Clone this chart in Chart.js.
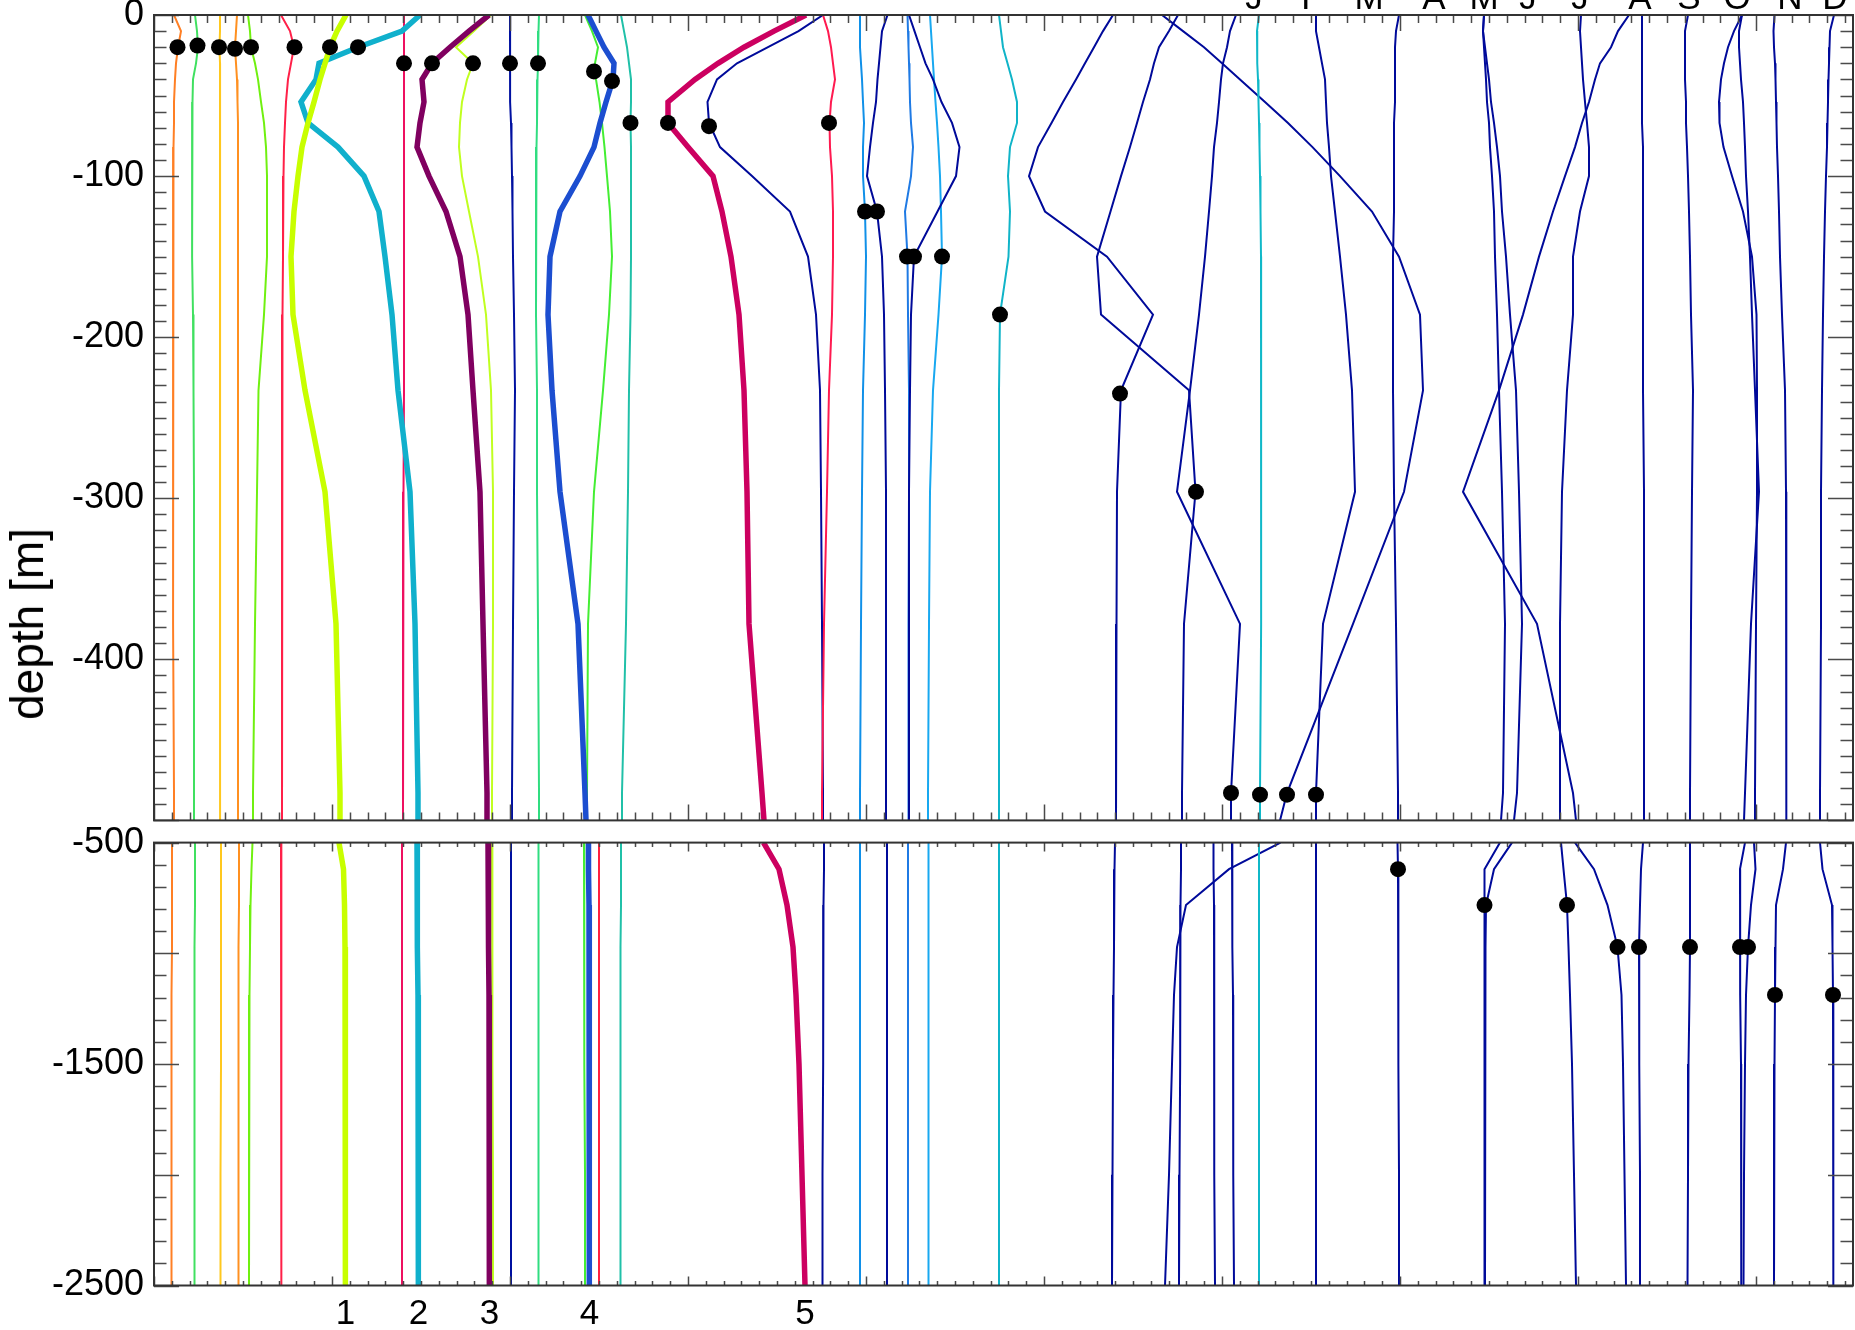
<!DOCTYPE html>
<html>
<head>
<meta charset="utf-8">
<script src="https://cdn.jsdelivr.net/npm/chart.js@4.4.1/dist/chart.umd.min.js"></script>
<style>
  html, body { margin: 0; padding: 0; background: #fff; }
  #wrap { position: relative; width: 1855px; height: 1330px; overflow: hidden; }
  #topChart { position: absolute; left: 0; top: 0; }
  #deepChart { position: absolute; left: 0; top: 815px; }
  #ylab { position: absolute; left: 27px; top: 624px; transform: translate(-50%, -50%) rotate(-90deg);
          font: 46px "Liberation Sans", Arial, sans-serif; white-space: nowrap; color: #000; }
</style>
</head>
<body>
<div id="wrap">
  <canvas id="topChart" width="1855" height="832"></canvas>
  <canvas id="deepChart" width="1855" height="515"></canvas>
  <div id="ylab">depth [m]</div>
</div>
<script>
// depth levels (m) of the profile vertices
const depthTop = [0, -10, -20, -30, -40, -54, -67, -82, -100, -122, -150, -186, -233, -296, -378, -483, -500];
const depthDeep = [-500, -620, -782, -972, -1188, -1500, -2000, -2500];

// profile offsets, upper 500 m
const oranA = [20, 27, 24, 22, 21, 20, 20, 19.5, 19, 19, 19, 19, 19, 19, 19.5, 20, 20];
const greenA = [41, 43, 44, 42, 39, 38.5, 38, 38, 38, 38, 38.5, 39, 39.5, 40, 40, 40, 40];
const amberA = [66, 66, 65.5, 66, 66, 66, 66, 66, 66, 66, 66, 66, 66, 66, 66, 66.5, 66.5];
const oranB = [83, 82, 81, 82, 83, 83.5, 84, 84, 84, 84, 84, 84, 84, 84, 84, 84, 84];
const limeA = [94, 96, 97, 101, 104, 107, 110, 112, 113, 113, 113, 110, 104.5, 103, 101, 99, 99];
const redA = [127, 136, 140, 137, 134, 132, 131, 130, 129.5, 129, 129, 128.5, 128, 128, 128, 128, 128];
const thick1 = [192, 183, 176, 171, 166, 160, 154, 148, 144, 140, 137, 139, 151, 171, 182, 186, 186];
const thick2 = [266, 248, 204, 165, 162, 147, 154, 184, 210, 225, 231, 238, 244, 256, 261, 264, 264];
const crimsonA = [250, 250, 250, 250, 250, 250, 250, 250, 250, 250, 250, 250, 250, 249.5, 249, 249, 249];
const thick3 = [335, 315, 296, 278, 268, 270, 266, 263, 275, 292, 306, 314, 319, 326, 329, 333, 333];
const limeB = [337, 320, 302, 319, 313, 308, 306, 305, 308, 315, 324, 332, 337, 339, 339, 338, 338];
const navyA = [356, 356, 356, 356, 356, 356.5, 357, 357.5, 358, 358.5, 359, 360, 361, 360, 359, 358, 358];
const greenB = [385, 384.5, 384, 384, 383.5, 383, 383, 382.5, 382, 382, 382, 382, 383, 383, 384, 385, 385];
const greenC = [431, 438, 444, 441, 442, 445.5, 448, 450.5, 453, 456, 458, 455, 449, 440, 434, 433, 433];
const thick4 = [434, 442, 450, 460, 459, 452, 446, 440, 426, 406, 396, 394, 398, 406, 424, 431, 432];
const tealA = [467, 470, 473, 475, 477, 477, 476.5, 477, 477, 477, 477, 476.5, 475, 474, 472, 468, 468];
const thick5 = [652, 620, 590, 564, 541, 514, 514, 534, 559, 568, 577, 585, 590, 593, 595, 608, 610];
const navyB = [669, 644.5, 614, 583, 563, 553.5, 555, 566, 598, 636, 654, 662, 666, 667, 668, 669, 669];
const redB = [669, 674, 677, 679, 681, 677, 675.5, 676, 678, 679, 679, 678, 675, 673, 670, 668, 668];
const skyA = [706, 706, 706, 707, 708, 709, 710, 709, 709, 711, 712, 711, 709, 708, 707, 706, 706];
const navyC = [733.5, 728, 726.5, 725, 723.5, 722, 719, 716, 713, 723, 728, 730, 731, 732, 732, 732, 732];
const blueA = [753.5, 754, 754.5, 755, 755.5, 756, 757, 759, 757, 751, 753.5, 754, 755, 755, 754.5, 754.5, 754.5];
const navyD = [755, 760.5, 766, 771.5, 779, 787.5, 798, 805.5, 802, 783.5, 760, 757, 756, 755, 755, 755, 755];
const skyB = [776, 777, 778, 779, 780, 781.5, 783, 784.5, 786, 787, 788, 784.5, 779, 776, 775, 774, 774];
const tealB = [845, 847, 849, 853.5, 858, 863, 863, 856, 854, 856, 854.5, 846, 845, 845, 845, 845, 845];
const navyE = [959, 949, 940, 931, 922, 909, 897.5, 884, 875, 891, 953, 999, 967, 963, 962.5, 962, 962];
const navyF = [1024, 1015, 1005, 1000, 996, 989, 983, 976, 967, 956.5, 943, 947, 1035, 1041.5, 1030, 1028, 1028];
const navyG = [1082, 1076, 1073, 1069, 1067, 1065, 1063, 1060, 1058, 1055, 1051, 1045, 1036, 1023, 1086, 1077, 1077];
const tealC = [1105, 1103, 1103, 1103.5, 1104, 1104.5, 1105, 1105.5, 1106, 1106.5, 1107, 1107, 1107.5, 1107, 1107, 1106, 1106];
const navyH = [1008, 1029, 1050, 1068, 1086, 1111, 1134, 1158.5, 1186, 1218, 1245, 1266, 1269, 1250, 1199, 1133, 1126];
const navyI = [1162, 1162, 1165, 1168, 1171, 1172, 1173, 1175, 1177, 1181, 1186, 1192, 1198, 1201, 1169, 1162, 1162];
const navyJ = [1245, 1242, 1241, 1241, 1241, 1241, 1240, 1240, 1240, 1240, 1239, 1239, 1239, 1240, 1242, 1244, 1244];
const navyK = [1330, 1329, 1330, 1331, 1332, 1333, 1335, 1336, 1338, 1340, 1341, 1343, 1345, 1348, 1351, 1349, 1347];
const navyL = [1330, 1329, 1331, 1333, 1335, 1337, 1340, 1343, 1346, 1348, 1352, 1356, 1362, 1365, 1368, 1363, 1360];
const navyM = [1427, 1426, 1427, 1428, 1429, 1431, 1433, 1435, 1435, 1426, 1419, 1419, 1413, 1408, 1406, 1406, 1406];
const navyN = [1475, 1464, 1457, 1446, 1441, 1435, 1428, 1421, 1411, 1399, 1385, 1369, 1345, 1309, 1383, 1419, 1422];
const navyO = [1488, 1488, 1488, 1488, 1488, 1488, 1488, 1489, 1489, 1489, 1489, 1489, 1489, 1490, 1490, 1490, 1490];
const navyP = [1534, 1531, 1531, 1531, 1531, 1532, 1532, 1533, 1534, 1535, 1536, 1537, 1539, 1538, 1537, 1536, 1536];
const navyQ = [1588, 1585, 1585, 1586, 1587, 1589, 1590, 1591, 1592, 1594, 1596, 1598, 1601, 1605, 1597, 1591, 1590];
const navyR = [1588, 1580, 1574, 1570, 1567, 1565, 1565.5, 1569.5, 1578, 1589, 1598, 1602.5, 1603, 1603, 1602, 1601, 1601];
const navyS = [1620.5, 1619.5, 1620, 1621, 1621.5, 1622, 1622.5, 1623, 1624, 1625, 1626, 1628, 1631, 1632, 1632, 1632.5, 1632.5];
const navyT = [1680, 1676, 1675.5, 1675, 1674.5, 1674, 1673.5, 1673, 1672, 1671, 1670, 1669, 1668, 1667, 1667, 1666, 1666];

// profile offsets, 500 - 2500 m
const oranADeep = [18, 18, 18, 18, 17.5, 17.5, 17.5, 17.5];
const greenADeep = [41, 41, 41, 40.5, 40.5, 40.5, 40.5, 40.5];
const amberADeep = [67, 67, 67, 67, 67, 67, 66.5, 66.5];
const oranBDeep = [85, 85, 85, 84.5, 84.5, 84.5, 84.5, 84.5];
const limeADeep = [98.5, 97.5, 96.5, 96, 95.5, 95, 95, 95];
const redADeep = [127, 127, 127, 127.5, 127.5, 127.5, 127.5, 127.5];
const thick1Deep = [185, 189.5, 190.5, 191, 191, 191.5, 191.5, 191.5];
const crimsonADeep = [248, 248, 248, 248, 248, 248, 248, 248];
const thick2Deep = [263, 263, 263.5, 263.5, 264, 264, 264.5, 264.5];
const thick3Deep = [334, 334.5, 334.5, 334.5, 335, 335, 335.5, 335.5];
const limeBDeep = [338, 338, 338.5, 338.5, 338.5, 338.5, 339, 339];
const navyADeep = [357, 357, 357, 357, 357, 357, 357, 357];
const greenBDeep = [384.5, 384.5, 384.5, 384.5, 384.5, 384.5, 384.5, 384.5];
const greenCDeep = [430, 430, 430, 430.5, 430.5, 430.5, 431, 431];
const thick4Deep = [434.5, 434.5, 435, 435, 435, 435.5, 435.5, 435.5];
const redCDeep = [445, 445, 445, 445, 445, 445, 445, 445];
const tealADeep = [467, 467, 467, 466.5, 466.5, 466.5, 466.5, 466.5];
const thick5Deep = [609.5, 625, 633, 639, 642, 645, 648, 651];
const navyBDeep = [670, 670, 669.5, 669.5, 669, 669, 668.5, 668.5];
const skyADeep = [706, 706, 706, 706, 706, 706, 706, 706];
const navyCDeep = [733, 733, 733, 733, 733, 733, 733, 733];
const blueADeep = [754, 754, 754, 754, 754, 754, 754, 754];
const skyBDeep = [774.5, 774.5, 774.5, 774.5, 774.5, 774.5, 774.5, 774.5];
const tealBDeep = [845, 845, 845, 845, 845, 845, 845, 845];
const navyEDeep = [961, 960.5, 960, 960, 959.5, 959, 958.5, 958];
const navyHDeep = [1126.5, 1075, 1032, 1023, 1020, 1018, 1015, 1011];
const navyFDeep = [1027, 1027, 1026.5, 1026.5, 1026, 1026, 1025.5, 1025];
const navyUDeep = [1059.5, 1059.5, 1060, 1060, 1060, 1060.5, 1060.5, 1061];
const navyGDeep = [1078, 1078, 1078.5, 1078.5, 1079, 1079, 1079.5, 1080];
const tealCDeep = [1105, 1105, 1105, 1105, 1105, 1105, 1105, 1105];
const navyIDeep = [1162, 1162, 1162, 1162, 1162, 1162, 1162, 1162];
const navyJDeep = [1243.5, 1244, 1244, 1244.5, 1244.5, 1244.5, 1245, 1245];
const navyKDeep = [1346, 1330.5, 1330.5, 1330.5, 1330.5, 1330.5, 1330.5, 1330.5];
const navyLDeep = [1358, 1340, 1332, 1331.5, 1331, 1331, 1331, 1331];
const navyMDeep = [1407, 1409.5, 1413, 1414.5, 1416, 1418, 1420, 1422];
const navyNDeep = [1421, 1440, 1453.5, 1463.5, 1467.5, 1469, 1470.5, 1472];
const navyODeep = [1489, 1487, 1486, 1485, 1485, 1485.5, 1486, 1486];
const navyPDeep = [1536, 1536, 1536, 1536, 1535.5, 1534.5, 1534, 1533.5];
const navyQDeep = [1591, 1586, 1586, 1586, 1586.5, 1587, 1587, 1587.5];
const navyRDeep = [1600, 1601.5, 1597, 1594, 1592, 1591, 1590, 1589.5];
const navySDeep = [1632, 1629, 1622, 1621.5, 1621, 1620.5, 1620, 1620];
const navyTDeep = [1666, 1668.5, 1678, 1678.5, 1679, 1679, 1679.5, 1679.5];

// black markers
const dotTopX = [23.5, 43.5, 65, 81, 97, 140.5, 176, 204, 250, 278, 319, 356, 384, 440, 458, 476.5, 514, 555, 675,
                 711, 723, 753, 760, 788, 846, 966, 1042, 1077, 1106, 1133, 1162];
const dotTopDepth = [-20, -19, -20, -21, -20, -20, -20, -20, -30, -30, -30, -30, -30, -35, -41, -67, -67, -69, -67,
                     -122, -122, -150, -150, -150, -186, -235, -296, -483, -484, -484, -484];
const dotDeepX = [1244, 1330.5, 1413, 1463.5, 1485, 1536, 1586, 1594, 1621, 1679];
const dotDeepDepth = [-620, -782, -782, -972, -972, -972, -972, -972, -1188, -1188];

// axis labels
const monthNames = ['J', 'F', 'M', 'A', 'M', 'J', 'J', 'A', 'S', 'O', 'N', 'D'];
const monthX = [1100, 1158, 1215, 1280, 1330, 1374, 1426, 1486, 1535, 1583, 1636, 1681];
const profileNames = ['1', '2', '3', '4', '5'];

const X_MAX = 1699;
const X_MINOR = 17.8;
const NAVY = '#000a9a';

const profiles = [
  { top: oranA, deep: oranADeep, color: '#ff7f24' },
  { top: greenA, deep: greenADeep, color: '#40e060' },
  { top: amberA, deep: amberADeep, color: '#ffc81e' },
  { top: oranB, deep: oranBDeep, color: '#ff9020' },
  { top: limeA, deep: limeADeep, color: '#70f010' },
  { top: redA, deep: redADeep, color: '#ff2048' },
  { top: thick1, deep: thick1Deep, color: '#c8ff00', thick: true },
  { top: thick2, deep: thick2Deep, color: '#10b0cc', thick: true },
  { top: crimsonA, deep: crimsonADeep, color: '#ee1060' },
  { top: thick3, deep: thick3Deep, color: '#800060', thick: true },
  { top: limeB, deep: limeBDeep, color: '#c0ff20' },
  { top: navyA, deep: navyADeep, color: '#0010a0' },
  { top: greenB, deep: greenBDeep, color: '#30dd80' },
  { top: greenC, deep: greenCDeep, color: '#44ee33' },
  { top: thick4, deep: thick4Deep, color: '#1c4ed0', thick: true },
  { top: null, deep: redCDeep, color: '#ff2040' },
  { top: tealA, deep: tealADeep, color: '#20c0a8' },
  { top: thick5, deep: thick5Deep, color: '#cc0060', thick: true },
  { top: redB, deep: null, color: '#ff1a50' },
  { top: navyB, deep: navyBDeep, color: NAVY },
  { top: skyA, deep: skyADeep, color: '#1090e8' },
  { top: navyC, deep: navyCDeep, color: NAVY },
  { top: navyD, deep: null, color: NAVY },
  { top: blueA, deep: blueADeep, color: '#1f7ae4' },
  { top: skyB, deep: skyBDeep, color: '#18a8f0' },
  { top: tealB, deep: tealBDeep, color: '#10b4c8' },
  { top: navyE, deep: navyEDeep, color: NAVY },
  { top: navyF, deep: navyFDeep, color: NAVY },
  { top: null, deep: navyUDeep, color: NAVY },
  { top: navyG, deep: navyGDeep, color: NAVY },
  { top: tealC, deep: tealCDeep, color: '#10b8c8' },
  { top: navyH, deep: navyHDeep, color: NAVY },
  { top: navyI, deep: navyIDeep, color: NAVY },
  { top: navyJ, deep: navyJDeep, color: NAVY },
  { top: navyK, deep: navyKDeep, color: NAVY },
  { top: navyL, deep: navyLDeep, color: NAVY },
  { top: navyM, deep: navyMDeep, color: NAVY },
  { top: navyN, deep: navyNDeep, color: NAVY },
  { top: navyO, deep: navyODeep, color: NAVY },
  { top: navyP, deep: navyPDeep, color: NAVY },
  { top: navyQ, deep: navyQDeep, color: NAVY },
  { top: navyR, deep: navyRDeep, color: NAVY },
  { top: navyS, deep: navySDeep, color: NAVY },
  { top: navyT, deep: navyTDeep, color: NAVY }
];

Chart.defaults.font.family = '"Liberation Sans", Arial, sans-serif';
Chart.defaults.color = '#000';

function lineSets(key, depths) {
  const sets = [];
  profiles.forEach(p => {
    const xs = p[key];
    if (!xs) return;
    sets.push({
      data: xs.map((x, i) => ({ x: x, y: depths[i] })),
      showLine: true,
      borderColor: p.color,
      borderWidth: p.thick ? 5.5 : 2,
      pointRadius: 0,
      tension: 0,
      clip: 0,
      order: p.thick ? 1 : 2
    });
  });
  return sets;
}

function dotSet(xs, depths) {
  return {
    data: xs.map((x, i) => ({ x: x, y: depths[i] })),
    showLine: false,
    pointRadius: 8,
    pointBackgroundColor: '#000',
    pointBorderWidth: 0,
    clip: false,
    order: 0
  };
}

// box round the plot and inward ticks on all four sides
const frame = {
  id: 'frame',
  afterDatasetsDraw(chart, args, o) {
    const { ctx, chartArea: a } = chart;
    const xs = chart.scales.x, ys = chart.scales.y;
    ctx.save();
    ctx.strokeStyle = '#4a4a4a';
    ctx.lineWidth = 1.5;
    ctx.beginPath();
    for (let k = 0; k * X_MINOR <= X_MAX + 0.01; k++) {
      const px = Math.round(xs.getPixelForValue(k * X_MINOR)) + 0.5;
      const len = k % 10 === 0 ? o.xTick : o.xTick / 2;
      ctx.moveTo(px, a.top); ctx.lineTo(px, a.top + len);
      ctx.moveTo(px, a.bottom); ctx.lineTo(px, a.bottom - len);
    }
    for (let v = ys.min; v <= ys.max + 0.01; v += o.yStep) {
      const py = Math.round(ys.getPixelForValue(v)) + 0.5;
      const len = Math.abs(v % o.yMajor) < 0.01 ? 25 : 12.5;
      ctx.moveTo(a.left, py); ctx.lineTo(a.left + len, py);
      ctx.moveTo(a.right, py); ctx.lineTo(a.right - len, py);
    }
    ctx.stroke();
    ctx.strokeStyle = '#333';
    ctx.lineWidth = 2;
    ctx.strokeRect(a.left, a.top, a.right - a.left, a.bottom - a.top);
    ctx.restore();
  }
};

const noGrid = { display: false, drawTicks: false };

new Chart(document.getElementById('topChart'), {
  type: 'scatter',
  data: { datasets: [dotSet(dotTopX, dotTopDepth)].concat(lineSets('top', depthTop)) },
  options: {
    responsive: false,
    animation: false,
    events: [],
    layout: { autoPadding: false, padding: { left: 0, right: 2, top: 0, bottom: 11.6 } },
    plugins: {
      legend: { display: false },
      tooltip: { enabled: false },
      frame: { xTick: 16, yStep: 10, yMajor: 100 }
    },
    scales: {
      x: { type: 'linear', min: 0, max: X_MAX, display: false },
      month: {
        type: 'linear', position: 'top', min: 0, max: X_MAX, bounds: 'data',
        grid: noGrid, border: { display: false },
        afterBuildTicks: ax => { ax.ticks = monthX.map(v => ({ value: v })); },
        afterFit: ax => { ax.height = 15; },
        ticks: {
          autoSkip: false, maxRotation: 0, padding: -5.5,
          font: { size: 35, lineHeight: 1.2 },
          callback: (v, i) => monthNames[i]
        }
      },
      y: {
        type: 'linear', min: -500, max: 0,
        grid: noGrid, border: { display: false },
        afterFit: ax => { ax.width = 154; },
        ticks: {
          stepSize: 100, padding: 10,
          font: { size: 36, lineHeight: 0.05 },
          callback: v => (v === -500 ? '' : String(v))
        }
      }
    }
  },
  plugins: [frame]
});

new Chart(document.getElementById('deepChart'), {
  type: 'scatter',
  data: { datasets: [dotSet(dotDeepX, dotDeepDepth)].concat(lineSets('deep', depthDeep)) },
  options: {
    responsive: false,
    animation: false,
    events: [],
    layout: { autoPadding: false, padding: { left: 0, right: 2, top: 27.6, bottom: 0 } },
    plugins: {
      legend: { display: false },
      tooltip: { enabled: false },
      frame: { xTick: 9, yStep: 100, yMajor: 500 }
    },
    scales: {
      x: {
        type: 'linear', position: 'bottom', min: 0, max: X_MAX, bounds: 'data',
        grid: noGrid, border: { display: false },
        afterBuildTicks: ax => {
          const ends = [thick1Deep, thick2Deep, thick3Deep, thick4Deep, thick5Deep].map(a => a[a.length - 1]);
          ax.ticks = ends.map(v => ({ value: v }));
        },
        afterFit: ax => { ax.height = 44.5; },
        ticks: {
          autoSkip: false, maxRotation: 0, padding: 8,
          font: { size: 35, lineHeight: 1.2 },
          callback: (v, i) => profileNames[i]
        }
      },
      y: {
        type: 'linear', min: -2500, max: -500,
        grid: noGrid, border: { display: false },
        afterFit: ax => { ax.width = 154; },
        ticks: {
          stepSize: 500, padding: 10,
          font: { size: 36, lineHeight: 0.05 },
          callback: v => ([-500, -1500, -2500].includes(v) ? String(v) : '')
        }
      }
    }
  },
  plugins: [frame]
});
</script>
</body>
</html>
